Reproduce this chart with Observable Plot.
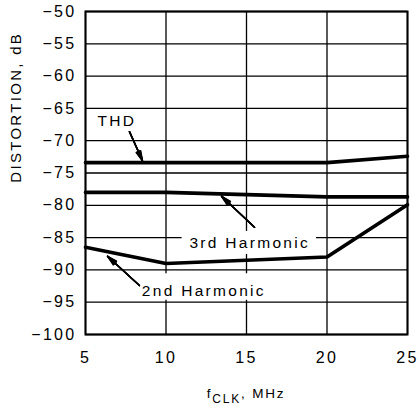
<!DOCTYPE html>
<html>
<head>
<meta charset="utf-8">
<script src="https://cdn.jsdelivr.net/npm/d3@7"></script>
<script src="https://cdn.jsdelivr.net/npm/@observablehq/plot@0.6"></script>
<style>
  html, body { margin: 0; padding: 0; background: #fff; }
  #chart svg { display: block; }
</style>
</head>
<body>
<div id="chart"></div>
<script>
// ---- data ----
const xTicks = [5, 10, 15, 20, 25];
const yTicks = [-50, -55, -60, -65, -70, -75, -80, -85, -90, -95, -100];

const thdFreq = [5, 10, 15, 20, 25];
const thdDb   = [-73.4, -73.4, -73.4, -73.4, -72.4];

const h3Freq = [5, 10, 20, 25];
const h3Db   = [-78.0, -78.0, -78.7, -78.7];

const h2Freq = [5, 10, 20, 25];
const h2Db   = [-86.5, -89.0, -88.0, -79.9];

// annotations (data units)
const labelText = ["THD", "3rd Harmonic", "2nd Harmonic"];
const labelX    = [6.95, 15.2, 12.35];
const labelY    = [-67.0, -85.8, -93.2];

const arrowX1 = [7.73, 15.5, 8.35];
const arrowY1 = [-68.6, -83.4, -92.4];
const arrowX2 = [8.54, 13.45, 6.37];
const arrowY2 = [-73.1, -78.6, -87.9];

// white label backgrounds that break the grid
const boxX1 = [11.0, 8.2];
const boxX2 = [19.35, 16.45];
const boxY1 = [-84.05, -90.6];
const boxY2 = [-87.6, -94.7];

const yTitle = "DISTORTION, dB";
const yTitleAt = -76.5; // vertical centre of the rotated title (data units)

// ---- build tables ----
const toRows = (xs, ys) => xs.map((x, i) => ({x, y: ys[i]}));
const thd = toRows(thdFreq, thdDb);
const h3 = toRows(h3Freq, h3Db);
const h2 = toRows(h2Freq, h2Db);
const labels = labelText.map((t, i) => ({t, x: labelX[i], y: labelY[i]}));
const arrows = arrowX1.map((x1, i) => ({x1, y1: arrowY1[i], x2: arrowX2[i], y2: arrowY2[i]}));
const boxes = boxX1.map((x1, i) => ({x1, x2: boxX2[i], y1: boxY1[i], y2: boxY2[i]}));

const FONT = "'Liberation Sans', Arial, sans-serif";

// filled-looking arrow heads: stacked chevrons of decreasing angle
const headAngles = [28, 22, 16, 10, 4];
const arrowMarks = headAngles.map(a =>
  Plot.arrow(arrows, {x1: "x1", y1: "y1", x2: "x2", y2: "y2", stroke: "black", strokeWidth: 1.4, headLength: 11, headAngle: a})
);

const chart = Plot.plot({
  width: 420,
  height: 408,
  marginLeft: 85,
  marginRight: 13,
  marginTop: 11,
  marginBottom: 74,
  style: {fontFamily: FONT, fontSize: "15.5px", letterSpacing: "2.3px", color: "black", background: "white"},
  x: {domain: [5, 25]},
  y: {domain: [-100, -50]},
  marks: [
    Plot.gridX(xTicks, {stroke: "black", strokeOpacity: 1, strokeWidth: 1.3}),
    Plot.gridY(yTicks, {stroke: "black", strokeOpacity: 1, strokeWidth: 1.3}),
    Plot.rect(boxes, {x1: "x1", x2: "x2", y1: "y1", y2: "y2", fill: "white"}),
    Plot.frame({stroke: "black", strokeWidth: 2}),
    Plot.line(thd, {x: "x", y: "y", stroke: "black", strokeWidth: 3.6}),
    Plot.line(h3, {x: "x", y: "y", stroke: "black", strokeWidth: 3.6}),
    Plot.line(h2, {x: "x", y: "y", stroke: "black", strokeWidth: 3.6}),
    ...arrowMarks,
    Plot.text(labels, {x: "x", y: "y", text: "t", fontSize: 15.5, fill: "black"}),
    Plot.axisX(xTicks, {tickSize: 0, tickPadding: 17, fontSize: 16, label: null}),
    Plot.axisY(yTicks, {tickSize: 0, tickPadding: 9, fontSize: 16, label: null}),
    Plot.text([yTitle], {frameAnchor: "left", y: [yTitleAt], text: d => d, rotate: -90, dx: -69, fontSize: 15, fill: "black"})
  ]
});

// x-axis title with subscript
const svg = d3.select(chart);
const xs = chart.scale("x");
const cx = (xs.apply(5) + xs.apply(25)) / 2;
const t = svg.append("text")
  .attr("x", cx)
  .attr("y", 397.5)
  .attr("text-anchor", "middle")
  .attr("font-family", FONT)
  .attr("font-size", 13.5)
  .attr("letter-spacing", "1.8px")
  .attr("fill", "black");
t.append("tspan").text("f");
t.append("tspan").attr("dy", 5).attr("font-size", 12).text("CLK");
t.append("tspan").attr("dy", -5).text(", MHz");

document.getElementById("chart").appendChild(chart);
</script>
</body>
</html>
